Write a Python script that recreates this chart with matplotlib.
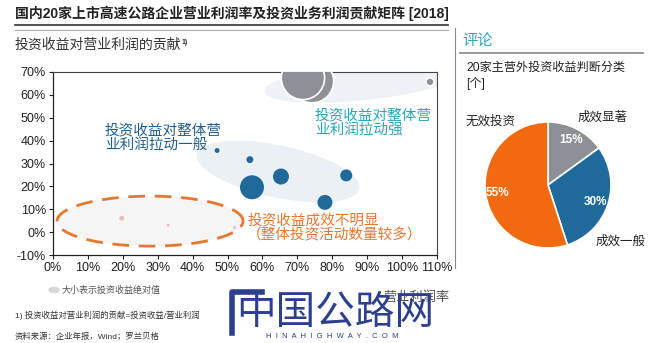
import numpy as np
import matplotlib
matplotlib.use("Agg")
import matplotlib.pyplot as plt
from matplotlib.patches import Polygon

plt.rcParams['font.family'] = ['Liberation Sans', 'Noto Sans CJK SC', 'DejaVu Sans']

# operating margin (x) vs. contribution of investment income to operating profit (y)
strong_x = [0.742, 0.716, 1.08]
strong_y = [0.66, 0.674, 0.657]
strong_income = [470, 470, 16]

medium_x = [0.47, 0.564, 0.653, 0.57, 0.84, 0.779]
medium_y = [0.357, 0.317, 0.243, 0.196, 0.248, 0.13]
medium_income = [6, 12, 64, 144, 36, 56]

weak_x = [0.197, 0.33, 0.52]
weak_y = [0.061, 0.03, 0.02]
weak_income = [6, 2, 2]

x_ticks = np.arange(0, 1.11, 0.1)
y_ticks = np.arange(-0.1, 0.71, 0.1)

pie_labels = ['成效显著', '成效一般', '无效投资']
pie_values = [15, 30, 55]
pie_colors = ['#8d9096', '#1f6a9b', '#f26a10']

BLUE = '#1f6a9b'
GRAY = '#8d9096'
ORANGE = '#e8772e'

fig = plt.figure(figsize=(6.5, 3.43), dpi=100)

# header
fig.text(15 / 650, 1 - 13 / 343, '国内20家上市高速公路企业营业利润率及投资业务利润贡献矩阵 [2018]',
         fontsize=10, fontweight='bold', color='#222222', va='center')
fig.add_artist(plt.Line2D([15 / 650, 448 / 650], [1 - 25 / 343] * 2, color='#333333', lw=1.2))
fig.add_artist(plt.Line2D([15 / 650, 448 / 650], [1 - 30 / 343] * 2, color='#aaaaaa', lw=0.8))
fig.text(15 / 650, 1 - 45 / 343, '投资收益对营业利润的贡献', fontsize=10, color='#333333', va='center')
fig.text(182 / 650, 1 - 42 / 343, '1)', fontsize=5, color='#333333', va='center', fontweight='bold')

ax = fig.add_axes([53 / 650, 1 - 255 / 343, 384 / 650, 183 / 343])
ax.set_xlim(0, 1.1)
ax.set_ylim(-0.1, 0.7)
fig.canvas.draw()


def ellipse_patch(cx, cy, a_px, b_px, angle_deg, **kw):
    # ellipse built in pixel space so it keeps its shape, then mapped back to data
    c = ax.transData.transform((cx, cy))
    t = np.linspace(0, 2 * np.pi, 200)
    th = np.deg2rad(angle_deg)
    px = a_px * np.cos(t) * np.cos(th) - b_px * np.sin(t) * np.sin(th) + c[0]
    py = a_px * np.cos(t) * np.sin(th) + b_px * np.sin(t) * np.cos(th) + c[1]
    pts = ax.transData.inverted().transform(np.column_stack([px, py]))
    return Polygon(pts, closed=True, **kw)


ax.add_patch(ellipse_patch(0.89, 0.66, 100, 19, 6, facecolor='#eef1f5', edgecolor='none', zorder=1))
ax.add_patch(ellipse_patch(0.645, 0.265, 83, 26, -12, facecolor='#ebf0f5', edgecolor='none', zorder=1))
ax.add_patch(ellipse_patch(0.278, 0.048, 93, 25, 0, facecolor='#f5f5f6', edgecolor=ORANGE,
                           lw=2, linestyle=(0, (6, 3.5)), zorder=1))

k = 2.07
ax.scatter(strong_x, strong_y, s=np.array(strong_income) * k, color=GRAY,
           edgecolor='white', linewidth=1.2, zorder=3)
ax.scatter(medium_x, medium_y, s=np.array(medium_income) * k, color=BLUE,
           edgecolor='none', zorder=3)
ax.scatter(weak_x, weak_y, s=np.array(weak_income) * k, color='#e6a4a4',
           edgecolor='none', alpha=0.7, zorder=3)

ax.text(0.149, 0.415, '投资收益对整体营\n业利润拉动一般', color='#1f5f8f', fontsize=10.5,
        style='italic', ha='left', va='center', linespacing=1.05, zorder=4)
ax.text(0.75, 0.478, '投资收益对整体营\n业利润拉动强', color='#2aa6b9', fontsize=10.5,
        style='italic', ha='left', va='center', linespacing=1.05, zorder=4)
ax.text(0.556, 0.017, '投资收益成效不明显\n（整体投资活动数量较多）', color=ORANGE, fontsize=10.5,
        style='italic', ha='left', va='center', linespacing=1.05, zorder=4)

ax.set_xticks(x_ticks)
ax.set_xticklabels([f'{v * 100:.0f}%' for v in x_ticks])
ax.set_yticks(y_ticks)
ax.set_yticklabels([f'{v * 100:.0f}%' for v in y_ticks])
ax.tick_params(axis='both', labelsize=9, length=3, width=0.8, colors='#222222', pad=2)
for side in ['left', 'bottom']:
    ax.spines[side].set_color('#222222')
    ax.spines[side].set_linewidth(0.9)
for side in ['top', 'right']:
    ax.spines[side].set_color('#444444')
    ax.spines[side].set_linewidth(0.8)

# legend note and axis title
fig.add_artist(plt.Circle((54 / 650, 1 - 290 / 343), 0.0075, color='#d8d8d8',
                          transform=fig.transFigure))
fig.text(62 / 650, 1 - 290 / 343, '大小表示投资收益绝对值', fontsize=6.5, color='#555555', va='center')
fig.text(383 / 650, 1 - 298 / 343, '营业利润率', fontsize=9.5, color='#555555', va='center')
fig.text(15 / 650, 1 - 315 / 343, '1) 投资收益对营业利润的贡献=投资收益/营业利润',
         fontsize=6, color='#333333', va='center')
fig.text(15 / 650, 1 - 337 / 343, '资料来源：企业年报，Wind；罗兰贝格',
         fontsize=6, color='#333333', va='center')

# right comment panel
fig.add_artist(plt.Line2D([455 / 650] * 2, [1 - 28 / 343, 1 - 268 / 343], color='#888888', lw=0.8))
fig.text(462 / 650, 1 - 41 / 343, '评论', fontsize=11, color='#2aa6b9', va='center')
fig.add_artist(plt.Line2D([460 / 650, 643 / 650], [1 - 53 / 343] * 2, color='#888888', lw=1.2))
fig.text(466 / 650, 1 - 68 / 343, '20家主营外投资收益判断分类', fontsize=8.7, color='#222222', va='center')
fig.text(466 / 650, 1 - 83 / 343, '[个]', fontsize=8.7, color='#222222', va='center')

pax = fig.add_axes([(548 - 63) / 650, 1 - (185 + 63) / 343, 126 / 650, 126 / 343])
wedges, texts = pax.pie(pie_values, colors=pie_colors, startangle=90, counterclock=False,
                        wedgeprops=dict(edgecolor='white', linewidth=1.2))
pax.set_xlim(-1, 1)
pax.set_ylim(-1, 1)
pax.set_aspect('equal')
pct_pos = [(0.37, 0.71), (0.75, -0.27), (-0.8, -0.13)]
for v, (px, py) in zip(pie_values, pct_pos):
    pax.text(px, py, f'{v}%', color='white', fontsize=8.5, fontweight='bold', ha='center', va='center')
fig.text(578 / 650, 1 - 118 / 343, pie_labels[0], fontsize=9, color='#222222', va='center')
fig.text(596 / 650, 1 - 242 / 343, pie_labels[1], fontsize=9, color='#222222', va='center')
fig.text(466 / 650, 1 - 122 / 343, pie_labels[2], fontsize=9, color='#222222', va='center')

# watermark
wm = '#2d3f8f'
fig.text(236 / 650, 1 - 313 / 343, '中国公路网', fontsize=28.5, color=wm, va='center',
         fontfamily='Noto Sans CJK SC', fontweight='medium')
fig.add_artist(plt.Line2D([232 / 650, 232 / 650, 262 / 650], [1 - 333 / 343, 1 - 292 / 343, 1 - 292 / 343],
                          color=wm, lw=4))
fig.text(266 / 650, 1 - 337 / 343, '  '.join('HINAHIGHWAY.COM'), fontsize=5.5, color=wm, va='center')

fig.savefig('out.png', dpi=100)
